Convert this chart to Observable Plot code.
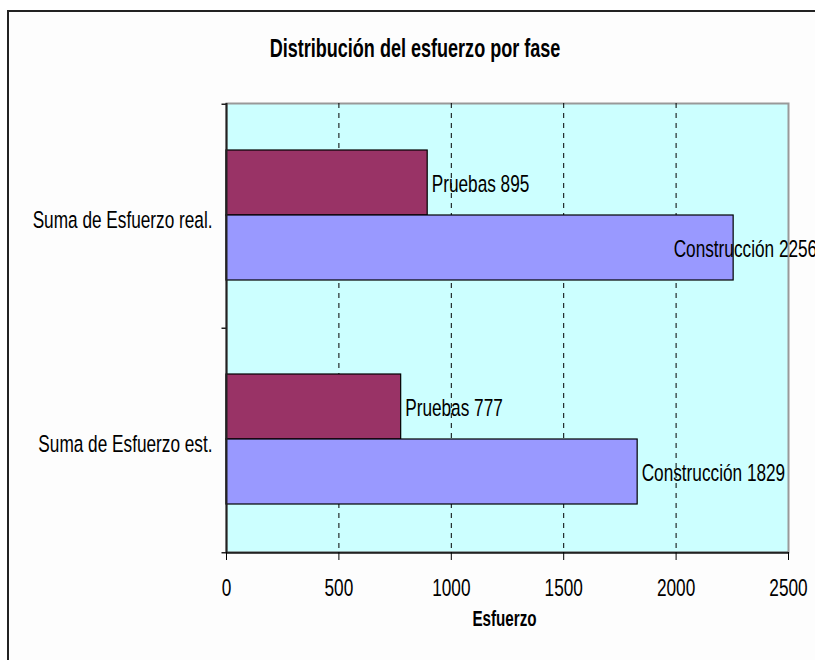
<!DOCTYPE html>
<html>
<head>
<meta charset="utf-8">
<script src="https://cdn.jsdelivr.net/npm/d3@7"></script>
<script src="https://cdn.jsdelivr.net/npm/@observablehq/plot@0.6"></script>
<style>
  html, body { margin: 0; padding: 0; background: #fff; width: 815px; height: 660px; overflow: hidden; }
  #wrap { position: absolute; left: 0; top: 0; width: 815px; height: 660px; overflow: hidden;
          font-family: "Liberation Sans", Arial, sans-serif; background: #fff; }
  #box { position: absolute; left: 7px; top: 10px; right: -200px; bottom: -200px;
         border-top: 2px solid #222; border-left: 2px solid #222; background: #fdfdfd; }
  #title { position: absolute; left: 0; top: 38px; width: 830px; text-align: center;
           font-size: 22px; line-height: 22px; font-weight: bold; color: #000;
           transform: scale(0.82, 1.2); transform-origin: center center; }
  #chart { position: absolute; left: 0; top: 80px; }
</style>
</head>
<body>
<div id="wrap">
<div id="box"></div>
<div id="title">Distribución del esfuerzo por fase</div>
<div id="chart"></div>
</div>
<script>
const categories = ["Suma de Esfuerzo real.", "Suma de Esfuerzo est."];
const phases = ["Pruebas", "Construcción"];
const pruebas = [895, 777];
const construccion = [2256, 1829];
const xTicks = [0, 500, 1000, 1500, 2000, 2500];
const gridTicks = [500, 1000, 1500, 2000];
const xLabel = "Esfuerzo";

const pruebasData = categories.map((c, i) => ({category: c, phase: phases[0], value: pruebas[i]}));
const construccionData = categories.map((c, i) => ({category: c, phase: phases[1], value: construccion[i]}));

const width = 815, height = 580;
const marginTop = 23, marginBottom = 108, marginLeft = 226, marginRight = 27;
const bw = (height - marginTop - marginBottom) / categories.length;
const font = '"Liberation Sans", Arial, sans-serif';
const labelText = d => `${d.phase} ${d.value}`;

const chart = Plot.plot({
  width, height, marginTop, marginBottom, marginLeft, marginRight,
  style: {fontFamily: font, fontSize: "21px", color: "#000", background: "transparent", overflow: "visible"},
  x: {domain: [0, 2500]},
  y: {domain: categories, padding: 0},
  marks: [
    Plot.frame({fill: "#ccffff", stroke: "#999", strokeWidth: 2}),
    Plot.ruleX(gridTicks, {stroke: "#000", strokeDasharray: "5,5", strokeWidth: 1}),
    Plot.barX(pruebasData, {x: "value", y: "category", insetTop: 46, insetBottom: 113,
      fill: "#993366", stroke: "#000", strokeWidth: 1.2}),
    Plot.barX(construccionData, {x: "value", y: "category", insetTop: 111, insetBottom: 48,
      fill: "#9999ff", stroke: "#000", strokeWidth: 1.2}),
    Plot.text(pruebasData, {x: "value", y: "category", text: labelText,
      textAnchor: "start", dx: 4, dy: -33, fontSize: 21, fill: "#000"}),
    Plot.text(construccionData.filter((d, i) => i === 0), {x: "value", y: "category", text: labelText,
      textAnchor: "start", dx: -60, dy: 32, fontSize: 21, fill: "#000"}),
    Plot.text(construccionData.filter((d, i) => i > 0), {x: "value", y: "category", text: labelText,
      textAnchor: "start", dx: 4, dy: 32, fontSize: 21, fill: "#000"}),
    Plot.ruleX([0], {stroke: "#222", strokeWidth: 2}),
    Plot.ruleY([categories[categories.length - 1]], {dy: bw / 2, stroke: "#222", strokeWidth: 2}),
    Plot.ruleY(categories, {y: d => d, x1: -20, x2: 0, dy: -bw / 2, stroke: "#222", strokeWidth: 1.5}),
    Plot.ruleY([categories[categories.length - 1]], {x1: -20, x2: 0, dy: bw / 2, stroke: "#222", strokeWidth: 1.5}),
    Plot.axisY({tickSize: 0, tickPadding: 14, label: null, fontSize: 21, dy: 3}),
    Plot.axisX({ticks: xTicks, tickSize: 8, tickPadding: 19, tickFormat: d => String(d),
      label: null, fontSize: 21}),
    Plot.text([xLabel], {frameAnchor: "bottom", text: d => d, dy: 73, dx: -3,
      fontSize: 19.5, fontWeight: "bold", fill: "#000"}),
  ]
});
document.getElementById("chart").appendChild(chart);

// narrow, slightly tall lettering (Arial Narrow look), scaled about each text's anchor
chart.querySelectorAll("text").forEach(t => {
  const cs = getComputedStyle(t);
  const anchor = cs.textAnchor;
  const bold = Number(cs.fontWeight) >= 600;
  const b = t.getBBox();
  const ox = anchor === "end" ? b.x + b.width : anchor === "middle" ? b.x + b.width / 2 : b.x;
  const oy = b.y + b.height / 2;
  const sx = bold ? 0.78 : 0.82, sy = bold ? 1.12 : 1.18;
  const prev = t.getAttribute("transform") || "";
  t.setAttribute("transform", `${prev} translate(${ox},${oy}) scale(${sx},${sy}) translate(${-ox},${-oy})`.trim());
});
</script>
</body>
</html>
